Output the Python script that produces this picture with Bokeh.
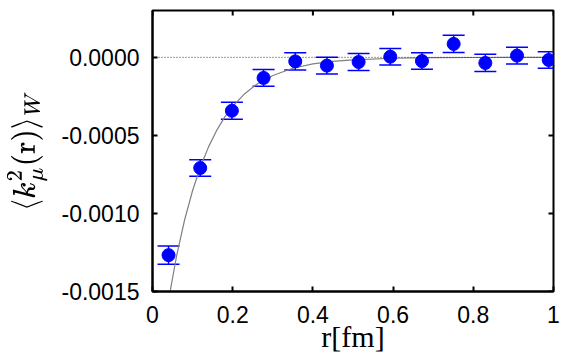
import math
from bokeh.plotting import figure
from bokeh.models import (ColumnDataSource, Whisker, TeeHead, Span, LinearAxis,
                          FixedTicker, Range1d)
from bokeh.embed import file_html
from bokeh.resources import INLINE

# ---- data ----
r_vals = [0.040, 0.119, 0.198, 0.277, 0.356, 0.435, 0.514, 0.593, 0.672, 0.751, 0.830, 0.909, 0.988]
k_vals = [-0.001267, -0.000709, -0.000342, -0.000132, -0.000026, -0.000053, -0.000030,
          0.000004, -0.000024, 0.000086, -0.000036, 0.000011, -0.000017]
k_errs = [0.000058, 0.000053, 0.000055, 0.000054, 0.000055, 0.000053, 0.000055,
          0.000053, 0.000053, 0.000055, 0.000055, 0.000053, 0.000053]

fit_r = [0.04, 0.06, 0.08, 0.10, 0.12, 0.14, 0.16, 0.18, 0.20, 0.23, 0.26, 0.30,
         0.35, 0.40, 0.45, 0.50, 0.60, 0.70, 0.80, 0.90, 1.00]
fit_k = [-0.001555, -0.001273, -0.001042, -0.000853, -0.000699, -0.000572, -0.000468,
         -0.000383, -0.000314, -0.000233, -0.000172, -0.000116, -0.000070, -0.000042,
         -0.000026, -0.000016, -0.000006, -0.000002, -0.000001, 0.0, 0.0]

x_ticks = [0, 0.2, 0.4, 0.6, 0.8, 1.0]
x_tick_labels = ["0", "0.2", "0.4", "0.6", "0.8", "1"]
y_ticks = [-0.0015, -0.0010, -0.0005, 0.0]
y_tick_labels = ["-0.0015", "-0.0010", "-0.0005", "0.0000"]

x_title = "r[fm]"
y_title = r"$$\langle k^2_\mu(\mathrm{r})\rangle_W$$"

X_MIN, X_MAX = 0, 1
Y_MIN, Y_MAX = -0.0015, 0.0003

src = ColumnDataSource(dict(
    r=r_vals, k=k_vals,
    lo=[v - e for v, e in zip(k_vals, k_errs)],
    hi=[v + e for v, e in zip(k_vals, k_errs)],
))

p = figure(width=561, height=362, output_backend="svg", toolbar_location=None,
           x_range=Range1d(X_MIN, X_MAX), y_range=Range1d(Y_MIN, Y_MAX),
           x_axis_type=None, y_axis_type=None,
           min_border_left=152, min_border_right=8, min_border_top=10, min_border_bottom=71)
p.outline_line_color = "black"
p.outline_line_width = 2
p.background_fill_color = "white"
p.border_fill_color = "white"

tick_font = "Liberation Sans"
tick_size = "23px"

def mk_axis(ticks, labels):
    ax = LinearAxis(ticker=FixedTicker(ticks=ticks))
    ax.major_label_overrides = {t: l for t, l in zip(ticks, labels)}
    ax.axis_line_color = "black"
    ax.axis_line_width = 2
    ax.major_tick_in = 5
    ax.major_tick_out = 0
    ax.major_tick_line_width = 2
    ax.minor_tick_in = 0
    ax.minor_tick_out = 0
    ax.major_label_text_font = tick_font
    ax.major_label_text_color = "black"
    ax.major_label_text_font_size = tick_size
    ax.major_label_standoff = 14
    return ax

xb = mk_axis(x_ticks, x_tick_labels)
xb.axis_label = x_title
xb.axis_label_text_font = "Liberation Serif"
xb.axis_label_text_font_style = "normal"
xb.axis_label_text_color = "black"
xb.axis_label_text_font_size = "30px"
xb.axis_label_standoff = -6
p.add_layout(xb, "below")

yl = mk_axis(y_ticks, y_tick_labels)
yl.major_label_standoff = 13
yl.axis_label = y_title
yl.axis_label_text_font_size = "25px"
yl.axis_label_text_color = "black"
yl.axis_label_text_font_style = "normal"
yl.axis_label_standoff = 11
p.add_layout(yl, "left")

# mirrored inward ticks on top and right edges (clipped to the frame)
p.scatter(x_ticks, [Y_MAX] * len(x_ticks), marker="dash", angle=math.pi / 2,
          size=10, line_color="black", line_width=2)
p.scatter([X_MAX] * len(y_ticks), y_ticks, marker="dash",
          size=10, line_color="black", line_width=2)

# zero reference line
p.add_layout(Span(location=0, dimension="width", line_color="black",
                  line_width=0.8, line_dash="1 2"))

# fit curve
p.line(fit_r, fit_k, line_color="#808080", line_width=1.2)

# error bars
wk = Whisker(source=src, base="r", lower="lo", upper="hi",
             line_color="#0000ff", line_width=1.5,
             upper_head=TeeHead(size=22, line_color="#0000ff", line_width=1.5),
             lower_head=TeeHead(size=22, line_color="#0000ff", line_width=1.5))
p.add_layout(wk)

p.scatter("r", "k", source=src, size=13, fill_color="#0000ff", line_color="#0000ff")

open("out.html", "w").write(file_html(p, INLINE))
